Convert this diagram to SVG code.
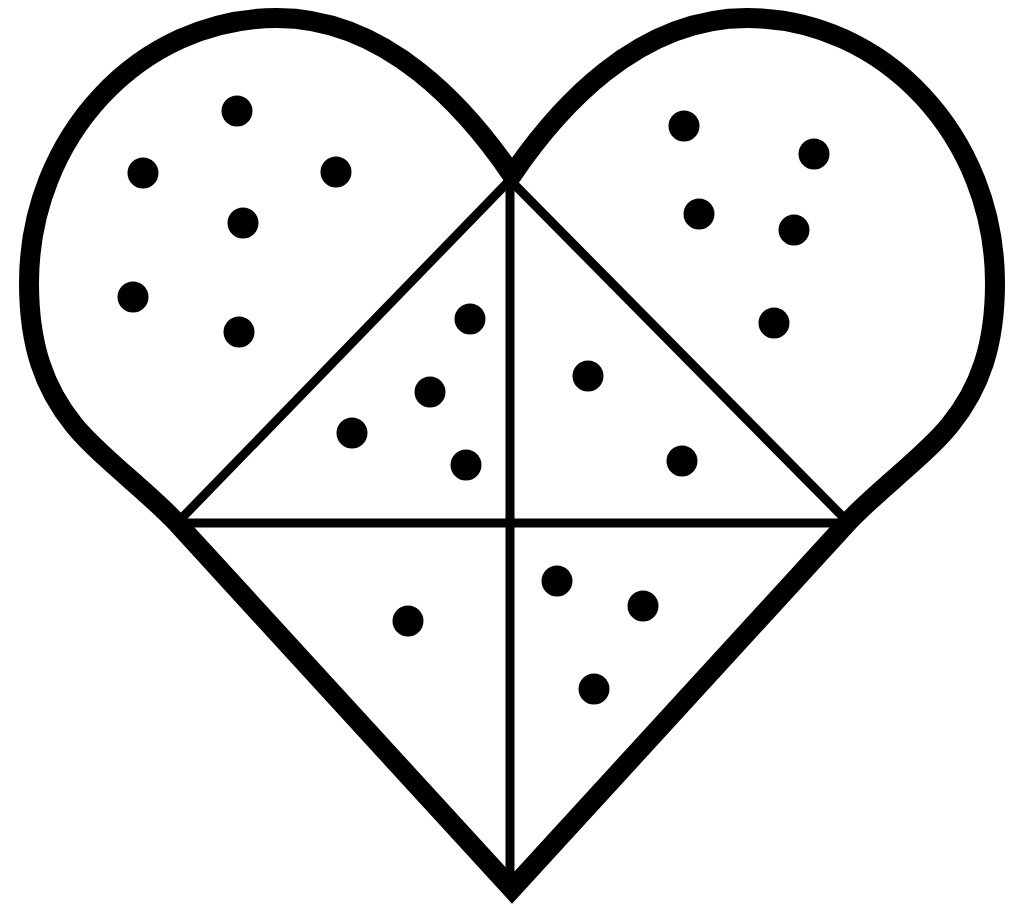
<svg xmlns="http://www.w3.org/2000/svg" width="1023" height="906" viewBox="0 0 1023 906">
<style>
.outline{fill:none;stroke:#000;stroke-width:20;stroke-linejoin:miter;stroke-miterlimit:6}
.div{fill:none;stroke:#000;stroke-width:9;stroke-linecap:butt}
.dot{fill:#000}
</style>
<rect width="1023" height="906" fill="#fff"/>
<g id="heart-outline">
<path class="outline" d="M 512,175 C 467,109 387,18 277,18 C 140,18 29,137 29,283 C 29,345 44,388 74,425 C 98,455 146,490 176,522 L 512,889 L 848,522 C 878,490 926,455 950,425 C 980,388 995,345 995,283 C 995,137 884,18 747,18 C 637,18 557,109 512,175 Z"/>
</g>
<g id="dividers">
<line class="div" x1="510" y1="180" x2="177" y2="523"/>
<line class="div" x1="510" y1="180" x2="849" y2="523"/>
<line class="div" x1="177" y1="523" x2="849" y2="523"/>
<line class="div" x1="510" y1="180" x2="510" y2="882"/>
</g>
<g id="dots-left-lobe">
<circle class="dot" cx="237" cy="111" r="15.5"/>
<circle class="dot" cx="143" cy="173" r="15.5"/>
<circle class="dot" cx="336" cy="172" r="15.5"/>
<circle class="dot" cx="243" cy="223" r="15.5"/>
<circle class="dot" cx="133" cy="297" r="15.5"/>
<circle class="dot" cx="239" cy="332" r="15.5"/>
</g>
<g id="dots-left-triangle">
<circle class="dot" cx="470" cy="319" r="15.5"/>
<circle class="dot" cx="430" cy="392" r="15.5"/>
<circle class="dot" cx="352" cy="433" r="15.5"/>
<circle class="dot" cx="466" cy="465" r="15.5"/>
</g>
<g id="dots-right-lobe">
<circle class="dot" cx="684" cy="126" r="15.5"/>
<circle class="dot" cx="814" cy="154" r="15.5"/>
<circle class="dot" cx="699" cy="214" r="15.5"/>
<circle class="dot" cx="794" cy="230" r="15.5"/>
<circle class="dot" cx="774" cy="323" r="15.5"/>
</g>
<g id="dots-right-triangle">
<circle class="dot" cx="588" cy="376" r="15.5"/>
<circle class="dot" cx="682" cy="461" r="15.5"/>
</g>
<g id="dots-bottom-left">
<circle class="dot" cx="408" cy="621" r="15.5"/>
</g>
<g id="dots-bottom-right">
<circle class="dot" cx="557" cy="581" r="15.5"/>
<circle class="dot" cx="643" cy="606" r="15.5"/>
<circle class="dot" cx="594" cy="689" r="15.5"/>
</g>
</svg>
